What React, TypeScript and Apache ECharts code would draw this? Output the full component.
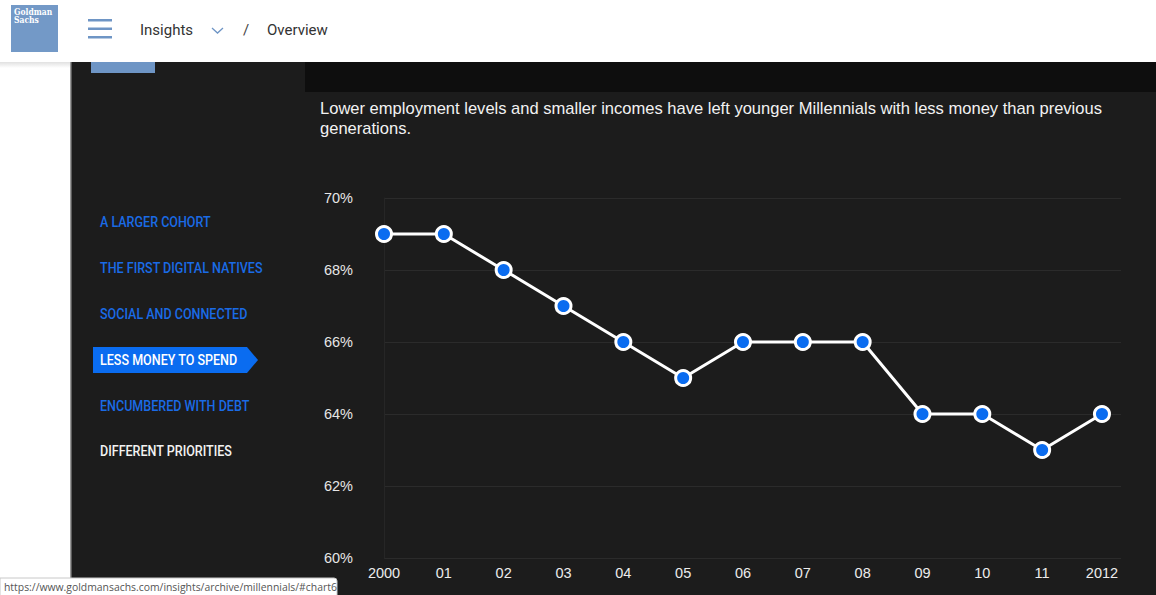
import React, { useEffect, useRef } from "react";
import * as echarts from "echarts";

const years = ["2000", "01", "02", "03", "04", "05", "06", "07", "08", "09", "10", "11", "2012"];
const shareValues = [69, 69, 68, 67, 66, 65, 66, 66, 66, 64, 64, 63, 64];
const yTicks = [60, 62, 64, 66, 68, 70];
const navItems = [
  "A LARGER COHORT",
  "THE FIRST DIGITAL NATIVES",
  "SOCIAL AND CONNECTED",
  "LESS MONEY TO SPEND",
  "ENCUMBERED WITH DEBT",
  "DIFFERENT PRIORITIES",
];
const activeNav = 3;
const subtitleLines = [
  "Lower employment levels and smaller incomes have left younger Millennials with less money than previous",
  "generations.",
];

export default function App() {
  const ref = useRef<HTMLDivElement>(null);
  useEffect(() => {
    document.body.style.margin = "0";
    const chart = echarts.init(ref.current!, null, { renderer: "svg" });
    const navFont = "Roboto, 'Liberation Sans', sans-serif";
    const navGraphics: any[] = navItems.map((t, i) => {
      const y = 222 + i * 45.8;
      return {
        type: "text",
        x: 100,
        y,
        scaleX: 0.865,
        z: 20,
        style: {
          text: t,
          x: 0,
          y: 0,
          fill: i === activeNav ? "#ffffff" : i === navItems.length - 1 ? "#f2f2f2" : "#1a6be6",
          font: `500 14.5px ${navFont}`,
          textVerticalAlign: "middle",
        },
      };
    });
    chart.setOption({
      animation: false,
      backgroundColor: "#ffffff",
      grid: { left: 384, right: 35, top: 198, bottom: 37 },
      xAxis: {
        type: "value",
        min: 0,
        max: 12.318,
        interval: 1,
        axisLine: { show: false },
        axisTick: { show: false },
        splitLine: { show: false },
        axisLabel: {
          color: "#ececec",
          fontSize: 14.5,
          fontFamily: "'Liberation Sans', Arial, sans-serif",
          margin: 7,
          showMaxLabel: false,
          formatter: (v: number) => (Number.isInteger(v) && years[v] !== undefined ? years[v] : ""),
        },
      },
      yAxis: {
        type: "value",
        min: yTicks[0],
        max: yTicks[yTicks.length - 1],
        interval: 2,
        axisLine: { show: true, lineStyle: { color: "#262626", width: 1 } },
        axisTick: { show: false },
        splitLine: { show: true, lineStyle: { color: "#2b2b2b", width: 1 } },
        axisLabel: {
          color: "#e6e6e6",
          fontSize: 14.5,
          fontFamily: "'Liberation Sans', Arial, sans-serif",
          margin: 31,
          formatter: (v: number) => `${v}%`,
        },
      },
      graphic: [
        // dark panel
        { type: "rect", z: -10, shape: { x: 70, y: 62, width: 1086, height: 533 }, style: { fill: "#1c1c1c" } },
        { type: "rect", z: -9, shape: { x: 305, y: 62, width: 851, height: 30 }, style: { fill: "#0e0e0e" } },
        { type: "rect", z: -9, shape: { x: 70, y: 62, width: 1.5, height: 533 }, style: { fill: "#9a9a9a" } },
        { type: "rect", z: -8, shape: { x: 91, y: 62, width: 64, height: 11 }, style: { fill: "#6e95c5" } },
        // header shadow
        {
          type: "rect",
          z: -7,
          shape: { x: 0, y: 62, width: 70, height: 6 },
          style: {
            fill: new echarts.graphic.LinearGradient(0, 0, 0, 1, [
              { offset: 0, color: "rgba(0,0,0,0.12)" },
              { offset: 1, color: "rgba(0,0,0,0)" },
            ]),
          },
        },
        // header
        { type: "rect", z: 10, shape: { x: 0, y: 0, width: 1156, height: 62 }, style: { fill: "#ffffff" } },
        { type: "rect", z: 11, shape: { x: 11, y: 5, width: 47, height: 47 }, style: { fill: "#7399c7" } },
        {
          type: "text", z: 12, x: 14, y: 7, scaleX: 0.8,
          style: { text: "Goldman", x: 0, y: 0, fill: "#ffffff", font: "bold 9.5px 'DejaVu Serif', 'Liberation Serif', serif" },
        },
        {
          type: "text", z: 12, x: 14, y: 14.5, scaleX: 0.8,
          style: { text: "Sachs", x: 0, y: 0, fill: "#ffffff", font: "bold 9.5px 'DejaVu Serif', 'Liberation Serif', serif" },
        },
        { type: "rect", z: 11, shape: { x: 88, y: 19, width: 24, height: 2.5 }, style: { fill: "#6e95c5" } },
        { type: "rect", z: 11, shape: { x: 88, y: 27.5, width: 24, height: 2.5 }, style: { fill: "#6e95c5" } },
        { type: "rect", z: 11, shape: { x: 88, y: 36, width: 24, height: 2.5 }, style: { fill: "#6e95c5" } },
        {
          type: "text", z: 12, x: 140, y: 30,
          style: { text: "Insights", fill: "#333333", font: "15px Roboto, 'Liberation Sans', sans-serif", textVerticalAlign: "middle" },
        },
        {
          type: "polyline", z: 12,
          shape: { points: [[212, 28], [217.5, 33], [223, 28]] },
          style: { stroke: "#6e95c5", lineWidth: 1.3, fill: "none" },
        },
        {
          type: "text", z: 12, x: 243, y: 30,
          style: { text: "/", fill: "#444444", font: "15px Roboto, 'Liberation Sans', sans-serif", textVerticalAlign: "middle" },
        },
        {
          type: "text", z: 12, x: 267, y: 30,
          style: { text: "Overview", fill: "#333333", font: "15px Roboto, 'Liberation Sans', sans-serif", textVerticalAlign: "middle" },
        },
        // subtitle
        ...subtitleLines.map((t, i) => ({
          type: "text", z: 12, x: 320, y: 108 + i * 20,
          style: { text: t, fill: "#f2f2f2", font: "16.55px 'Liberation Sans', Arial, sans-serif", textVerticalAlign: "middle" },
        })),
        // active nav highlight
        {
          type: "polygon", z: 15,
          shape: { points: [[93, 347], [247, 347], [258, 360], [247, 373], [93, 373]] },
          style: { fill: "#0a6cf0" },
        },
        ...navGraphics,
        // status bar
        {
          type: "rect", z: 30, shape: { x: 0, y: 578, width: 337, height: 18, r: [0, 3, 0, 0] },
          style: { fill: "#ffffff", stroke: "#c8c8c8", lineWidth: 1 },
        },
        {
          type: "text", z: 31, x: 4, y: 587,
          style: {
            text: "https://www.goldmansachs.com/insights/archive/millennials/#chart6",
            fill: "#555555",
            font: "10.4px 'Open Sans', 'Noto Sans', sans-serif",
            textVerticalAlign: "middle",
          },
        },
      ],
      series: [
        {
          type: "line",
          data: shareValues.map((v, i) => [i, v]),
          lineStyle: { color: "#ffffff", width: 3 },
          symbol: "circle",
          symbolSize: 15,
          itemStyle: { color: "#0a6cf0", borderColor: "#ffffff", borderWidth: 3 },
          z: 5,
        },
      ],
    });
    return () => chart.dispose();
  }, []);
  return <div ref={ref} style={{ position: "fixed", left: 0, top: 0, width: 1156, height: 595 }} />;
}
